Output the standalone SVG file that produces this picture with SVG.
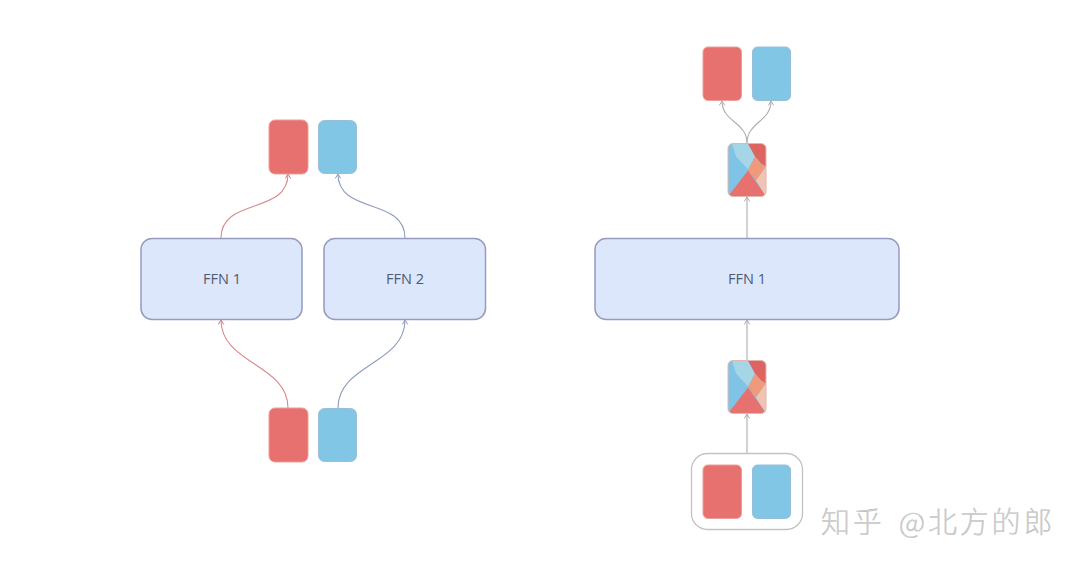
<svg xmlns="http://www.w3.org/2000/svg" xmlns:xlink="http://www.w3.org/1999/xlink" width="1080" height="567" viewBox="0 0 1080 567">
<style>
.ffn{fill:#dce7fb;stroke:#979bc0;stroke-width:1.500}
.r{fill:#e6716f;stroke:#ec9f9a;stroke-width:1}
.b{fill:#82c6e6;stroke:#96bfd9;stroke-width:1}
.lbl{font-family:"Open Sans","Noto Sans",sans-serif;font-size:14.500px;fill:#4e5a72;text-anchor:middle}
.c{fill:none;stroke-width:1.100}
.cg{stroke:#adadad}
.cr{stroke:#d98a8c}
.cb{stroke:#8d9dbb}
.wm{font-family:"Noto Sans CJK SC",sans-serif;font-size:29px;font-weight:300;fill:#cfcfcf;stroke:#a0a0a0;stroke-width:.2;letter-spacing:2.800px}
</style>
<defs>
<marker id="ag" markerWidth="7" markerHeight="7" refX="5.500" refY="3.500" orient="auto" markerUnits="userSpaceOnUse"><path d="M1 .7L5.500 3.500L1 6.300" fill="none" stroke="#adadad"/></marker>
<marker id="ar" markerWidth="7" markerHeight="7" refX="5.500" refY="3.500" orient="auto" markerUnits="userSpaceOnUse"><path d="M1 .7L5.500 3.500L1 6.300" fill="none" stroke="#d9797c"/></marker>
<marker id="ab" markerWidth="7" markerHeight="7" refX="5.500" refY="3.500" orient="auto" markerUnits="userSpaceOnUse"><path d="M1 .7L5.500 3.500L1 6.300" fill="none" stroke="#8d9dbb"/></marker>
<clipPath id="mc"><rect x="0" y="0" width="38" height="53" rx="5"/></clipPath>
<g id="mix">
<g clip-path="url(#mc)">
<rect width="38" height="53" fill="#7fc4e6"/>
<path d="M4 0H20L27 13L20 26L8 13Z" fill="#a6d5e6"/>
<path d="M20 0H38V23L33 20L27 13Z" fill="#dd6460"/>
<path d="M27 13L33 20L38 23L28 37L20 27Z" fill="#ef9a7c"/>
<path d="M38 23V53L28 37Z" fill="#f1c4b2"/>
<path d="M20 27L38 53H0Z" fill="#e6716f"/>
</g>
<rect x="0" y="0" width="38" height="53" rx="5" fill="none" stroke="#e3b5ae" stroke-width="1"/>
</g>
</defs>
<rect width="1080" height="567" fill="#fff"/>

<g id="connectors">
<path class="c cr" marker-end="url(#ar)" d="M221 238C221 197 288 215 288 174"/>
<path class="c cb" marker-end="url(#ab)" d="M405 238C405 197 338 215 338 174"/>
<path class="c cr" marker-end="url(#ar)" d="M288 408C288 364 221 364 221 320"/>
<path class="c cb" marker-end="url(#ab)" d="M338 408C338 364 405 364 405 320"/>
<path class="c cg" marker-end="url(#ag)" d="M747 143C747 122 722 122 722 101"/>
<path class="c cg" marker-end="url(#ag)" d="M747 143C747 122 771 122 771 101"/>
<path class="c cg" marker-end="url(#ag)" d="M747 238V197"/>
<path class="c cg" marker-end="url(#ag)" d="M747 360V320"/>
<path class="c cg" marker-end="url(#ag)" d="M747 454V414"/>
</g>

<g id="left-out-red"><rect class="r" x="269" y="120" width="39" height="54" rx="6"/></g>
<g id="left-out-blue"><rect class="b" x="318.500" y="120.500" width="38" height="53" rx="6"/></g>
<g id="left-ffn1"><rect class="ffn" x="141" y="238.500" width="161" height="81" rx="11"/><text class="lbl" x="222" y="284">FFN 1</text></g>
<g id="left-ffn2"><rect class="ffn" x="324" y="238.500" width="161.500" height="81" rx="11"/><text class="lbl" x="405" y="284">FFN 2</text></g>
<g id="left-in-red"><rect class="r" x="269" y="408" width="39" height="54" rx="6"/></g>
<g id="left-in-blue"><rect class="b" x="318.500" y="408.500" width="38" height="53" rx="6"/></g>

<g id="right-out-red"><rect class="r" x="703" y="47" width="38.500" height="53.500" rx="5"/></g>
<g id="right-out-blue"><rect class="b" x="752.500" y="47" width="38" height="53.500" rx="5"/></g>
<g id="right-mix-top"><use xlink:href="#mix" href="#mix" x="728" y="143.500"/></g>
<g id="right-ffn"><rect class="ffn" x="595" y="238.500" width="304" height="81" rx="11"/><text class="lbl" x="747" y="284">FFN 1</text></g>
<g id="right-mix-bottom"><use xlink:href="#mix" href="#mix" x="728" y="360.500"/></g>
<g id="right-in-group">
<rect x="691.500" y="453.500" width="111" height="76" rx="16" fill="#fff" stroke="#c2c2c2" stroke-width="1.300"/>
<rect class="r" x="703" y="465" width="38.500" height="53.500" rx="5"/>
<rect class="b" x="752.500" y="465" width="38" height="53.500" rx="5"/>
</g>
<g id="watermark"><text class="wm" x="821" y="533" xml:space="preserve">知乎 <tspan dx="5">@北方的郎</tspan></text></g>
</svg>
